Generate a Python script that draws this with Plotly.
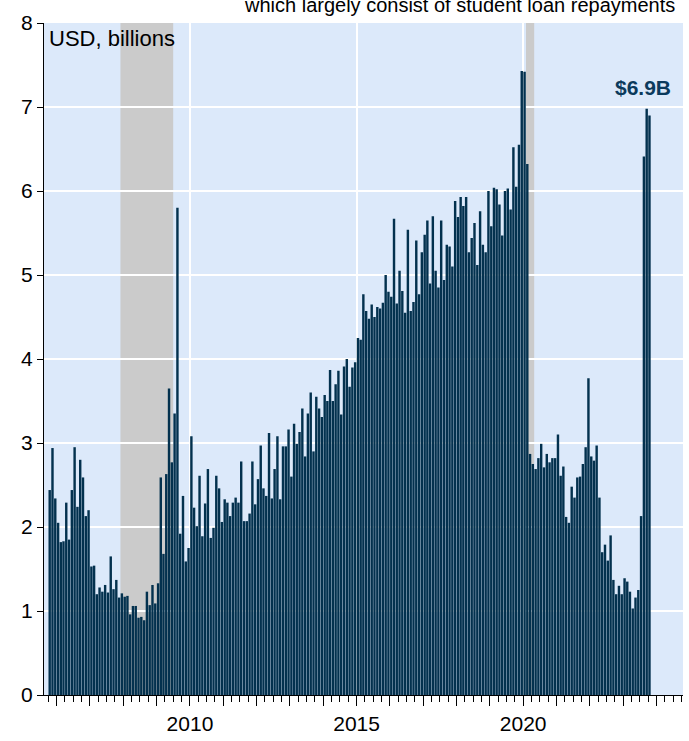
import pandas as pd
import plotly.graph_objects as go

# ---- data (USD billions, monthly, Oct 2005 - Oct 2023) ----
v2005 = [2.44, 2.94, 2.34]
v2006 = [2.05, 1.82, 1.83, 2.29, 1.85, 2.44, 2.95, 2.24, 2.80, 2.59, 2.13, 2.20]
v2007 = [1.53, 1.54, 1.20, 1.28, 1.23, 1.31, 1.22, 1.65, 1.26, 1.37, 1.16, 1.21]
v2008 = [1.17, 1.18, 0.96, 1.06, 1.06, 0.92, 0.93, 0.89, 1.23, 1.07, 1.31, 1.09]
v2009 = [1.33, 2.59, 1.68, 2.63, 3.65, 2.77, 3.35, 5.80, 1.92, 2.37, 1.59, 1.75]
v2010 = [3.08, 2.23, 2.01, 2.61, 1.89, 2.28, 2.69, 1.87, 1.99, 2.61, 2.46, 2.06]
v2011 = [2.33, 2.29, 2.13, 2.29, 2.35, 2.29, 2.78, 2.07, 2.07, 2.16, 2.78, 2.27]
v2012 = [2.57, 2.97, 2.46, 2.37, 3.12, 2.34, 2.69, 3.08, 2.33, 2.96, 2.96, 3.16]
v2013 = [2.60, 3.23, 2.99, 3.13, 3.41, 2.84, 3.35, 3.60, 2.90, 3.55, 3.41, 3.31]
v2014 = [3.57, 3.50, 3.87, 3.50, 3.70, 3.86, 3.34, 3.91, 4.00, 3.67, 3.90, 3.96]
v2015 = [4.25, 4.23, 4.77, 4.57, 4.48, 4.65, 4.50, 4.62, 4.60, 4.67, 5.00, 4.80]
v2016 = [4.74, 5.67, 4.66, 5.05, 4.81, 4.55, 5.54, 4.57, 4.68, 5.41, 4.77, 5.27]
v2017 = [5.48, 5.65, 4.90, 5.70, 5.05, 4.85, 5.65, 4.94, 5.36, 5.34, 5.10, 5.88]
v2018 = [5.69, 5.93, 5.82, 5.93, 5.27, 5.44, 5.62, 5.12, 5.76, 5.36, 5.27, 6.00]
v2019 = [5.58, 6.04, 6.02, 5.84, 5.47, 6.00, 6.03, 5.78, 6.52, 6.05, 6.55, 7.43]
v2020 = [7.42, 6.32, 2.87, 2.75, 2.69, 2.82, 2.99, 2.71, 2.87, 2.77, 2.82, 2.82]
v2021 = [3.10, 2.61, 2.72, 2.12, 2.05, 2.48, 2.35, 2.59, 2.60, 2.75, 2.95, 3.77]
v2022 = [2.84, 2.79, 2.97, 2.35, 1.70, 1.79, 1.60, 1.90, 1.37, 1.20, 1.30, 1.20]
v2023 = [1.39, 1.35, 1.23, 1.03, 1.16, 1.25, 2.13, 6.41, 6.98, 6.90]

first_month = "2005-10-01"
recessions = [("2007-12-01", "2009-07-01"), ("2020-02-01", "2020-05-01")]
year_ticks = list(range(2006, 2025))
labelled_years = [2010, 2015, 2020]
last_label = "$6.9B"

values = (v2005 + v2006 + v2007 + v2008 + v2009 + v2010 + v2011 + v2012 + v2013
          + v2014 + v2015 + v2016 + v2017 + v2018 + v2019 + v2020 + v2021
          + v2022 + v2023)
months = pd.date_range(first_month, periods=len(values), freq="MS")

NAVY = "#03314E"
BG = "#DCE9FA"
FONT = "Liberation Sans"

fig = go.Figure()
fig.add_trace(go.Bar(
    x=months, y=values, xperiod="M1", xperiodalignment="middle",
    marker=dict(color=NAVY, line=dict(width=0)), hoverinfo="skip",
))
# invisible trace so the overlay axis (5-year gridlines) is rendered
fig.add_trace(go.Scatter(x=[months[0]], y=[None], xaxis="x2", showlegend=False,
                         hoverinfo="skip"))

for a, b in recessions:
    fig.add_shape(type="rect", xref="x", yref="paper", x0=a, x1=b, y0=0, y1=1,
                  fillcolor="#CBCBCB", line=dict(width=0), layer="between")

xrange = ["2005-08-15", "2024-10-18"]
fig.update_layout(
    width=689, height=741,
    margin=dict(l=44, r=6, t=23, b=42),
    paper_bgcolor="white", plot_bgcolor=BG,
    showlegend=False, bargap=0.1,
    font=dict(family=FONT, size=21, color="black"),
    xaxis=dict(
        type="date", range=xrange,
        tickmode="array",
        tickvals=[f"{y}-01-01" for y in year_ticks],
        ticktext=[str(y) if y in labelled_years else "" for y in year_ticks],
        ticks="outside", ticklen=10, tickcolor="black", tickwidth=1,
        showgrid=False, showline=True, linecolor="black", linewidth=1,
        zeroline=False,
        tickfont=dict(size=21),
        minor=dict(ticks="outside", ticklen=6, tickcolor="black",
                   tickmode="linear", dtick="M3", tick0="2005-01-01",
                   showgrid=False),
    ),
    xaxis2=dict(
        type="date", range=xrange, overlaying="x", anchor="y", side="bottom",
        tickmode="array", tickvals=[f"{y}-01-01" for y in labelled_years],
        showticklabels=False, ticks="", showgrid=True, gridcolor="white",
        gridwidth=1.5, showline=False, zeroline=False,
    ),
    yaxis=dict(
        range=[0, 8], dtick=1, tick0=0,
        ticks="outside", ticklen=6, tickcolor="black",
        showline=True, linecolor="black", linewidth=1,
        gridcolor="white", gridwidth=1.5, zeroline=False,
        tickfont=dict(size=21),
    ),
    annotations=[
        dict(text="USD, billions", xref="paper", yref="paper", x=0, y=1,
             xanchor="left", yanchor="top", xshift=3, yshift=-1,
             showarrow=False, font=dict(size=22, color="black")),
        dict(text="<b>" + last_label + "</b>", xref="x", yref="y",
             x=months[-1], y=values[-1], xanchor="center", yanchor="bottom",
             xshift=-5, yshift=14, showarrow=False,
             font=dict(size=21, color="#0B3A5C")),
        dict(text="which largely consist of student loan repayments",
             xref="paper", yref="paper", x=0.651, y=1.0075,
             xanchor="center", yanchor="bottom", showarrow=False,
             font=dict(size=20, color="black")),
    ],
)

fig.write_html("out.html", config={"displayModeBar": False},
               post_script="document.body.style.margin='0';")
